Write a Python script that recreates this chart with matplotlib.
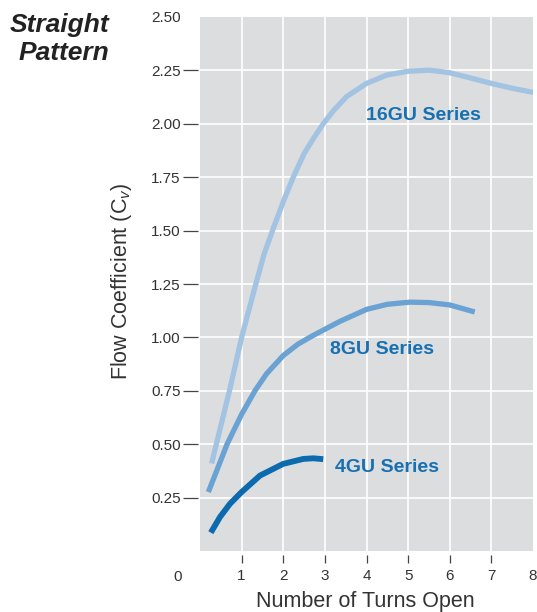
import numpy as np
import matplotlib
matplotlib.use("Agg")
import matplotlib.pyplot as plt

plt.rcParams['font.family'] = ['Liberation Sans', 'DejaVu Sans']
plt.rcParams['mathtext.fontset'] = 'custom'
plt.rcParams['mathtext.rm'] = 'Liberation Sans'
plt.rcParams['mathtext.it'] = 'Liberation Sans:italic'

# data (turns open vs flow coefficient)
x_16gu = [0.28, 0.48, 0.72, 1.0, 1.32, 1.54, 1.76, 2.0, 2.24, 2.5, 2.72, 2.96,
          3.2, 3.52, 4.0, 4.48, 5.0, 5.52, 6.0, 6.55, 7.0, 7.51, 8.0]
y_16gu = [0.41, 0.57, 0.76, 1.00, 1.235, 1.39, 1.51, 1.635, 1.75, 1.86, 1.93, 2.00,
          2.06, 2.127, 2.189, 2.228, 2.246, 2.251, 2.239, 2.212, 2.189, 2.166, 2.147]

x_8gu = [0.2, 0.4, 0.65, 1.0, 1.32, 1.6, 2.0, 2.35, 2.68, 3.0, 3.36, 4.0, 4.5,
         5.04, 5.5, 6.0, 6.6]
y_8gu = [0.276, 0.375, 0.50, 0.64, 0.75, 0.83, 0.915, 0.968, 1.005, 1.038, 1.075,
         1.131, 1.155, 1.165, 1.163, 1.152, 1.119]

x_4gu = [0.26, 0.48, 0.72, 1.0, 1.44, 2.0, 2.48, 2.72, 2.96]
y_4gu = [0.086, 0.159, 0.221, 0.276, 0.353, 0.408, 0.431, 0.434, 0.43]

series_names = ['16GU Series', '8GU Series', '4GU Series']
label_pos = [(3.98, 2.04), (3.13, 0.945), (3.24, 0.39)]
line_colors = ['#a3c3e3', '#6aa2d4', '#0c6aae']
line_widths = [3.8, 3.8, 4.2]

y_ticks = [0.25, 0.50, 0.75, 1.00, 1.25, 1.50, 1.75, 2.00, 2.25]
x_ticks = [1, 2, 3, 4, 5, 6, 7]

fig = plt.figure(figsize=(5.37, 6.12), dpi=100)
ax = fig.add_axes([200 / 537, 61 / 612, 333 / 537, 534 / 612])
ax.set_facecolor('#dcdddf')

for xs, ys, c, lw in zip([x_16gu, x_8gu, x_4gu], [y_16gu, y_8gu, y_4gu], line_colors, line_widths):
    ax.plot(xs, ys, color=c, lw=lw, solid_capstyle='butt',
            solid_joinstyle='round', zorder=3)

for name, (lx, ly) in zip(series_names, label_pos):
    ax.text(lx, ly, name, color='#1670b2', fontsize=14, fontweight='bold',
            ha='left', va='center', zorder=4)

ax.set_xlim(0, 8)
ax.set_ylim(0, 2.5)

ax.set_yticks(y_ticks)
ax.set_yticklabels([f'{v:.2f}' for v in y_ticks])
ax.set_yticks([2.5], minor=True)
ax.set_yticklabels(['2.50'], minor=True)
ax.set_xticks(x_ticks)
ax.set_xticklabels([str(v) for v in x_ticks])
ax.set_xticks([8], minor=True)
ax.set_xticklabels(['8'], minor=True)

for s in ax.spines.values():
    s.set_visible(False)
ax.spines['left'].set_position(('outward', 1.5))
ax.spines['bottom'].set_position(('outward', 3))

ax.tick_params(axis='y', which='major', length=11, width=0.9, color='#444444',
               pad=1.5, labelsize=11, labelcolor='#333333')
ax.tick_params(axis='y', which='minor', length=0, pad=12.5, labelsize=11,
               labelcolor='#333333')
ax.tick_params(axis='x', which='major', length=6, width=0.9, color='#444444',
               pad=4, labelsize=11, labelcolor='#333333')
ax.tick_params(axis='x', which='minor', length=0, pad=10, labelsize=11,
               labelcolor='#333333')

ax.grid(True, which='major', color='white', lw=1.2)
ax.set_axisbelow(True)

ax.annotate('0', xy=(-0.53, 0), xycoords=('data', 'axes fraction'),
            xytext=(0, -14), textcoords='offset points', ha='center', va='top',
            fontsize=11, color='#333333', annotation_clip=False)

fig.text(121 / 537, 1 - 281 / 612, 'Flow Coefficient (C$_{v}$)', rotation=90,
         ha='center', va='center', fontsize=15.5, color='#333333')
fig.text(365 / 537, 1 - 601 / 612, 'Number of Turns Open', ha='center',
         va='center', fontsize=15.5, color='#333333')
fig.text(109 / 537, 1 - 32 / 612, 'Straight', ha='right', va='baseline',
         fontsize=19, fontweight='bold', fontstyle='italic', color='#222222')
fig.text(109 / 537, 1 - 60 / 612, 'Pattern', ha='right', va='baseline',
         fontsize=19, fontweight='bold', fontstyle='italic', color='#222222')

fig.savefig('out.png', dpi=100)
